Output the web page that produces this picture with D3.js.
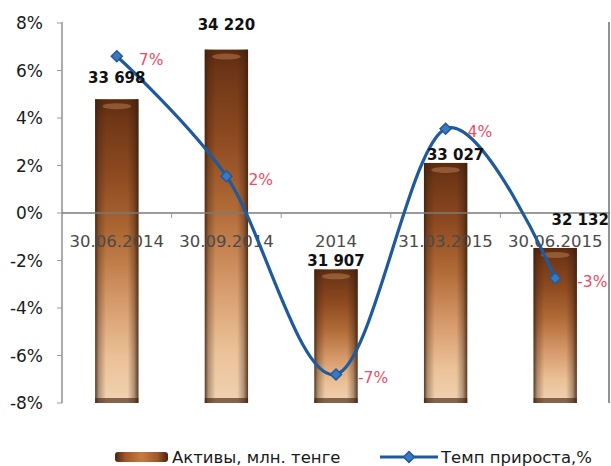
<!DOCTYPE html>
<html><head><meta charset="utf-8">
<script src="https://cdn.jsdelivr.net/npm/d3@7/dist/d3.min.js"></script>
<style>
html,body{margin:0;padding:0;background:#fff;}
svg{display:block;font-family:"DejaVu Sans",sans-serif;}
</style></head>
<body>
<svg id="chart" width="611" height="466"></svg>
<script>
// ---- data ----
const categories = ["30.06.2014", "30.09.2014", "2014", "31.03.2015", "30.06.2015"];
const assets = [33698, 34220, 31907, 33027, 32132];          // Активы, млн. тенге
const assetLabels = ["33 698", "34 220", "31 907", "33 027", "32 132"];
const growth = [6.6, 1.55, -6.8, 3.55, -2.75];                // Темп прироста, %
const percentTicks = [-8, -6, -4, -2, 0, 2, 4, 6, 8];
const seriesNames = ["Активы, млн. тенге", "Темп прироста,%"];

// ---- layout (not data) ----
const plot = {left: 62, right: 610, top: 23, bottom: 403};
const labelNudge = [[0,-22],[0,-25],[0,-9],[10,-8],[25,-28]];

const svg = d3.select("#chart");
const defs = svg.append("defs");

const x = d3.scaleBand().domain(categories).range([plot.left, plot.right]).padding(0);
const y = d3.scaleLinear().domain([-8, 8]).range([plot.bottom, plot.top]);
const yv = d3.scaleLinear().domain([30500, 34500]).range([plot.bottom, plot.top]);
const barW = x.bandwidth() * 0.395;
const cx = c => x(c) + x.bandwidth() / 2;

// gradients
const gv = defs.append("linearGradient").attr("id","gv").attr("x1",0).attr("y1",0).attr("x2",0).attr("y2",1);
[[0,"#5a2a10"],[0.06,"#6e3616"],[0.25,"#8e4a20"],[0.45,"#b06a36"],[0.65,"#d49666"],[0.85,"#ebc197"],[1,"#f0d2b2"]]
  .forEach(([o,c]) => gv.append("stop").attr("offset",o).attr("stop-color",c));
const gh = defs.append("linearGradient").attr("id","gh").attr("x1",0).attr("y1",0).attr("x2",1).attr("y2",0);
[[0,"#3a2010",0.85],[0.08,"#3a2010",0.35],[0.25,"#3a2010",0],[0.75,"#3a2010",0],[0.9,"#3a2010",0.35],[1,"#3a2010",0.85]]
  .forEach(([o,c,a]) => gh.append("stop").attr("offset",o).attr("stop-color",c).attr("stop-opacity",a));
const gl = defs.append("linearGradient").attr("id","gl").attr("x1",0).attr("y1",0).attr("x2",1).attr("y2",0);
[[0,"#4a2410"],[0.2,"#a0582a"],[0.5,"#c87a44"],[0.8,"#a0582a"],[1,"#4a2410"]]
  .forEach(([o,c]) => gl.append("stop").attr("offset",o).attr("stop-color",c));

// axes lines
svg.append("line").attr("x1",plot.left).attr("x2",plot.left).attr("y1",plot.top-1).attr("y2",plot.bottom)
  .attr("stroke","#7f7f7f").attr("stroke-width",1.3);
svg.append("line").attr("x1",plot.right-1).attr("x2",plot.right-1).attr("y1",plot.top-1).attr("y2",plot.bottom)
  .attr("stroke","#6f6f6f").attr("stroke-width",1.5);

// y ticks and labels
const yAxis = svg.append("g");
percentTicks.forEach(t => {
  yAxis.append("line").attr("x1",plot.left-5).attr("x2",plot.left).attr("y1",y(t)).attr("y2",y(t))
    .attr("stroke","#9a9a9a").attr("stroke-width",1);
  yAxis.append("text").attr("x",43).attr("y",y(t)).attr("dy","0.36em").attr("text-anchor","end")
    .attr("font-size",17).attr("fill","#1a1a1a").text(t + "%");
});

// bars
const bars = svg.append("g");
categories.forEach((c,i) => {
  const x0 = cx(c) - barW/2, top = yv(assets[i]), h = plot.bottom - top;
  bars.append("rect").attr("x",x0).attr("y",top).attr("width",barW).attr("height",h).attr("fill","url(#gv)");
  bars.append("rect").attr("x",x0).attr("y",plot.bottom-5).attr("width",barW).attr("height",5)
    .attr("fill","#85634a");
  bars.append("rect").attr("x",x0).attr("y",top).attr("width",barW).attr("height",h).attr("fill","url(#gh)");
  bars.append("ellipse").attr("cx",cx(c)).attr("cy",top+7).attr("rx",barW*0.33).attr("ry",3)
    .attr("fill","#c98a5e").attr("opacity",0.45);
});

// zero axis with category ticks
svg.append("line").attr("x1",plot.left).attr("x2",plot.right).attr("y1",y(0)).attr("y2",y(0))
  .attr("stroke","#7a7a7a").attr("stroke-width",1.3);
categories.forEach((c,i) => {
  if (i === 0) return;
  svg.append("line").attr("x1",x(c)).attr("x2",x(c)).attr("y1",y(0)).attr("y2",y(0)+5)
    .attr("stroke","#9a9a9a").attr("stroke-width",1);
});

// category labels
categories.forEach(c => {
  svg.append("text").attr("x",cx(c)).attr("y",y(0)+28).attr("dy","0.36em").attr("text-anchor","middle")
    .attr("font-size",16.5).attr("fill","#4a4a4a").text(c);
});

// growth line
const pts = categories.map((c,i) => [cx(c), y(growth[i])]);
svg.append("path").attr("d", d3.line().curve(d3.curveCardinal.tension(0))(pts))
  .attr("fill","none").attr("stroke","#1f5a9c").attr("stroke-width",3.2);
const diamond = "M0,-5.5L5.5,0L0,5.5L-5.5,0Z";
pts.forEach(p => {
  svg.append("path").attr("d",diamond).attr("transform",`translate(${p[0]},${p[1]})`)
    .attr("fill","#3a78c0").attr("stroke","#1f5a9c").attr("stroke-width",1.5);
});

// growth labels
pts.forEach((p,i) => {
  svg.append("text").attr("x",p[0]+22).attr("y",p[1]+3).attr("dy","0.36em")
    .attr("font-size",15.5).attr("fill","#ee4b66").text(Math.round(growth[i]) + "%");
});

// asset value labels
categories.forEach((c,i) => {
  svg.append("text").attr("x",cx(c)+labelNudge[i][0]).attr("y",yv(assets[i])+labelNudge[i][1]).attr("dy","0.36em")
    .attr("text-anchor","middle").attr("font-size",15).attr("font-weight","bold").attr("fill","#111")
    .text(assetLabels[i]);
});

// legend
const lg = svg.append("g");
lg.append("rect").attr("x",115).attr("y",452).attr("width",53).attr("height",10).attr("rx",3)
  .attr("fill","url(#gl)");
lg.append("text").attr("x",172).attr("y",457).attr("dy","0.36em").attr("font-size",16.5).attr("fill","#1a1a1a")
  .text(seriesNames[0]);
lg.append("line").attr("x1",380).attr("x2",438).attr("y1",457).attr("y2",457)
  .attr("stroke","#1f5a9c").attr("stroke-width",3.2);
lg.append("path").attr("d",diamond).attr("transform","translate(409,457)")
  .attr("fill","#3a78c0").attr("stroke","#1f5a9c").attr("stroke-width",1.5);
lg.append("text").attr("x",441).attr("y",457).attr("dy","0.36em").attr("font-size",16.5).attr("fill","#1a1a1a")
  .text(seriesNames[1]);
</script>
</body></html>
